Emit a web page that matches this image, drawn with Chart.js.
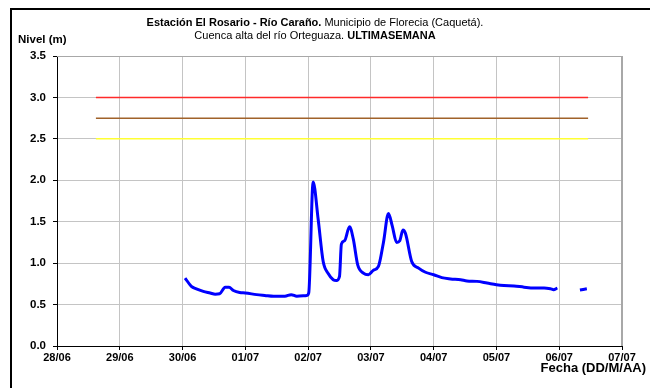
<!DOCTYPE html>
<html>
<head>
<meta charset="utf-8">
<script src="https://cdn.jsdelivr.net/npm/chart.js@4/dist/chart.umd.min.js"></script>
<style>
    html, body { margin: 0; padding: 0; background: #fff; }
    #wrap { width: 650px; height: 388px; position: relative; }
</style>
</head>
<body>
<div id="wrap"><canvas id="nivelChart"></canvas></div>
<script>
// --- Data ---
// x = days since 28/06 00:00
const fechaLabels = ['28/06', '29/06', '30/06', '01/07', '02/07', '03/07', '04/07', '05/07', '06/07', '07/07'];

const nivelDias = [
    2.04, 2.14, 2.22, 2.33, 2.44, 2.52, 2.59, 2.68, 2.74, 2.81, 2.91, 3.00,
    3.18, 3.31, 3.45, 3.63, 3.73, 3.82, 3.98, 4.01, 4.08, 4.16, 4.24, 4.32,
    4.40, 4.45, 4.50, 4.53, 4.58, 4.66, 4.72, 4.79, 4.88, 4.96, 5.04, 5.12,
    5.20, 5.28, 5.34, 5.41, 5.46, 5.51, 5.55, 5.65, 5.76, 5.87, 6.00, 6.13,
    6.27, 6.43, 6.53, 6.69, 6.85, 7.00, 7.12, 7.28, 7.44, 7.60, 7.76, 7.86,
    7.91, 7.97, 8.15, 8.33, 8.44
];
const nivelValores = [
    0.82, 0.72, 0.69, 0.66, 0.64, 0.625, 0.63, 0.71, 0.71, 0.67, 0.645, 0.64,
    0.62, 0.61, 0.60, 0.60, 0.62, 0.60, 0.61, 0.64, 1.98, 1.53, 1.02, 0.875,
    0.80, 0.79, 0.84, 1.23, 1.27, 1.44, 1.29, 0.98, 0.88, 0.86, 0.915, 0.96,
    1.25, 1.60, 1.45, 1.25, 1.27, 1.40, 1.36, 1.02, 0.94, 0.89, 0.86, 0.825,
    0.81, 0.80, 0.785, 0.78, 0.76, 0.74, 0.73, 0.725, 0.71, 0.70, 0.70, 0.69,
    0.68, 0.70, null, 0.675, 0.69
];

// alert thresholds (m)
const umbralValores = [3.0, 2.75, 2.5];
const umbralColores = ['#ff2a2a', '#a0622a', '#ffff33'];
const umbralDesde = 0.62;
const umbralHasta = 8.46;

const FONT = 'Arial, "Liberation Sans", sans-serif';

// --- Datasets ---
const datasets = umbralValores.map((v, i) => ({
    data: [{ x: umbralDesde, y: v }, { x: umbralHasta, y: v }],
    borderColor: umbralColores[i],
    borderWidth: 1.5,
    pointRadius: 0
}));
datasets.push({
    data: nivelDias.map((d, i) => ({ x: d, y: nivelValores[i] })),
    borderColor: '#0000ff',
    borderWidth: 3,
    pointRadius: 0,
    spanGaps: false,
    cubicInterpolationMode: 'monotone'
});

// --- Texts / frame drawn on canvas ---
const decorPlugin = {
    id: 'decor',
    beforeDraw(chart) {
        const c = chart.ctx;
        c.save();
        c.fillStyle = '#fff';
        c.fillRect(0, 0, chart.width, chart.height);
        c.restore();
    },
    afterDraw(chart) {
        const c = chart.ctx;
        const area = chart.chartArea;
        c.save();
        // plot border top/right
        c.strokeStyle = '#a8a8a8';
        c.lineWidth = 1;
        c.beginPath();
        c.moveTo(area.left, area.top + 0.5);
        c.lineTo(area.right, area.top + 0.5);
        c.stroke();
        c.lineWidth = 2;
        c.beginPath();
        c.moveTo(area.right, area.top);
        c.lineTo(area.right, area.bottom);
        c.stroke();

        // outer frame
        c.strokeStyle = '#000';
        c.lineWidth = 2;
        c.beginPath();
        c.moveTo(11, chart.height);
        c.lineTo(11, 9);
        c.lineTo(chart.width, 9);
        c.stroke();

        // title, two lines with bold + normal runs
        const lines = [
            [['bold', 'Estación El Rosario - Río Caraño. '], ['normal', 'Municipio de Florecia (Caquetá).']],
            [['normal', 'Cuenca alta del río Orteguaza. '], ['bold', 'ULTIMASEMANA']]
        ];
        const ys = [23, 36];
        c.fillStyle = '#000';
        c.textBaseline = 'middle';
        c.textAlign = 'left';
        lines.forEach((runs, li) => {
            let w = 0;
            runs.forEach(r => { c.font = r[0] + ' 11px ' + FONT; w += c.measureText(r[1]).width; });
            let x = 315 - w / 2;
            runs.forEach(r => {
                c.font = r[0] + ' 11px ' + FONT;
                c.fillText(r[1], x, ys[li]);
                x += c.measureText(r[1]).width;
            });
        });

        c.font = 'bold 11.5px ' + FONT;
        c.fillText('Nivel (m)', 18, 40);
        c.font = 'bold 13px ' + FONT;
        c.textAlign = 'right';
        c.fillText('Fecha (DD/M/AA)', 646, 368);
        c.restore();
    }
};

new Chart(document.getElementById('nivelChart'), {
    type: 'line',
    data: { datasets },
    options: {
        responsive: true,
        maintainAspectRatio: false,
        animation: false,
        layout: { padding: { left: 0, top: 56, right: 28, bottom: 0 } },
        plugins: {
            legend: { display: false },
            tooltip: { enabled: false }
        },
        scales: {
            x: {
                type: 'linear',
                min: 0,
                max: 9,
                afterFit: (s) => { s.height = 42; },
                afterBuildTicks: (s) => {
                    s.ticks = fechaLabels.map((_, i) => ({ value: i }));
                },
                ticks: {
                    stepSize: 1,
                    maxRotation: 0,
                    autoSkip: false,
                    padding: 1,
                    color: '#000',
                    font: { family: FONT, size: 11, weight: 'bold' },
                    callback: (v) => fechaLabels[v]
                },
                grid: {
                    color: '#c4c4c4',
                    lineWidth: 1,
                    tickLength: 4,
                    tickColor: '#000'
                },
                border: { color: '#000', width: 1 }
            },
            y: {
                min: 0,
                max: 3.5,
                afterFit: (s) => { s.width = 57; },
                ticks: {
                    stepSize: 0.5,
                    padding: 7,
                    color: '#000',
                    font: { family: FONT, size: 11.5, weight: 'bold' },
                    callback: (v) => v.toFixed(1)
                },
                grid: {
                    color: '#c4c4c4',
                    lineWidth: 1,
                    tickLength: 4,
                    tickColor: '#000'
                },
                border: { color: '#000', width: 1 }
            }
        }
    },
    plugins: [decorPlugin]
});
</script>
</body>
</html>
